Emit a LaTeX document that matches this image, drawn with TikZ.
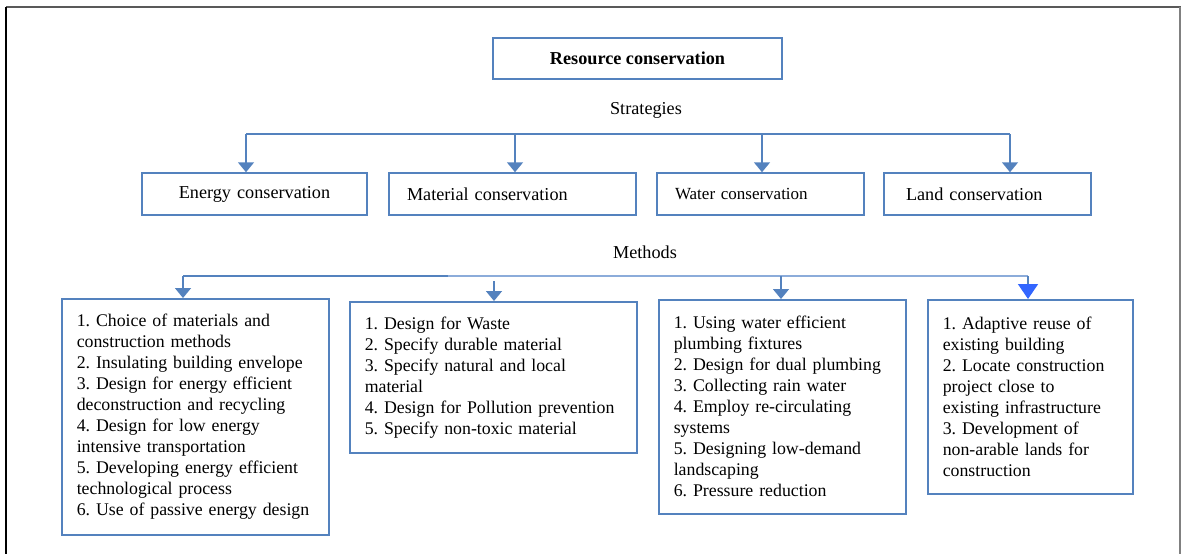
\documentclass[tikz,border=0pt]{standalone}
\usepackage{fontspec}
\setmainfont{Liberation Serif}
\usetikzlibrary{arrows.meta}
\definecolor{boxblue}{RGB}{84,130,190}
\definecolor{lineblue}{RGB}{140,172,218}
\definecolor{brightblue}{RGB}{51,102,255}

\begin{document}
\frenchspacing
\hyphenpenalty=10000
\exhyphenpenalty=10000
\begin{tikzpicture}[x=0.5pt,y=-0.5pt,
		every node/.style={font=\fontsize{9.1}{10.5}\selectfont},
		box/.style={draw=boxblue,line width=0.75pt,inner ysep=0pt},
		sbox/.style={box,minimum height=21pt,inner xsep=9pt,align=left},
		mbox/.style={box,anchor=north west,inner xsep=7.5pt,align=left,font=\fontsize{8.9}{10.5}\selectfont},
		bus/.style={line width=0.8pt},
		arr/.style={draw=boxblue,line width=0.8pt,-{Triangle[width=8pt,length=5pt]}},
		bigarr/.style={draw=boxblue,line width=0.8pt,-{Triangle[width=10pt,length=7.5pt,color=brightblue,fill=brightblue]}}]

		\useasboundingbox (0,0) rectangle (1181,554);

		% page frame
		\draw [gray!70!black, line width=1pt] (6,7) -- (1181,7);
		\draw [black, line width=0.8pt] (6,7) -- (6,554);
		\draw [gray, line width=0.8pt] (1180,7) -- (1180,554);

		\node [box, minimum width=144.5pt, minimum height=20.5pt] (res) at (637.5,58.5) {\bfseries Resource conservation};
		\node (strat) at (646,110) {Strategies};

		\node [sbox, text width=94.5pt, align=center] (energy) at (254.5,194) {Energy conservation};
		\node [sbox, text width=105.5pt] (material) at (512.5,194) {Material conservation};
		\node [sbox, text width=85.5pt, font=\fontsize{8.5}{10}\selectfont] (water) at (760.5,194) {Water conservation};
		\node [sbox, inner xsep=11pt, text width=81.5pt] (land) at (987.5,194) {Land conservation};

		\node (meth) at (645,252) {Methods};

		\node [mbox, text width=118.5pt, minimum height=118pt] (energyM) at (61,298) {1. Choice of materials and\\construction methods\\2. Insulating building envelope\\3. Design for energy efficient\\deconstruction and recycling\\4. Design for low energy\\intensive transportation\\5. Developing energy efficient\\technological process\\6. Use of passive energy design};
		\node [mbox, text width=128.5pt, minimum height=75.5pt] (materialM) at (349,301) {1. Design for Waste\\2. Specify durable material\\3. Specify natural and local\\material\\4. Design for Pollution prevention\\5. Specify non-toxic material};
		\node [mbox, text width=108.5pt, minimum height=107pt] (waterM) at (658,299) {1. Using water efficient\\plumbing fixtures\\2. Design for dual plumbing\\3. Collecting rain water\\4. Employ re-circulating\\systems\\5. Designing low-demand\\landscaping\\6. Pressure reduction};
		\node [mbox, text width=87.5pt, minimum height=97pt] (landM) at (927,299) {1. Adaptive reuse of\\existing building\\2. Locate construction\\project close to\\existing infrastructure\\3. Development of\\non-arable lands for\\construction};

		% strategies
		\coordinate (s1) at (246,134);
		\coordinate (s2) at (515,134);
		\coordinate (s3) at (762,134);
		\coordinate (s4) at (1010,134);
		\draw [bus, boxblue] (s1) -- (s4);
		\foreach \c/\n in {s1/energy,s2/material,s3/water,s4/land}
			\draw [arr] (\c) -- (\c |- \n.north);

		% methods
		\coordinate (t1) at (183,276);
		\coordinate (tm) at (448,276);
		\coordinate (t2) at (494,281);
		\coordinate (t3) at (781,276);
		\coordinate (t4) at (1028,276);
		\draw [bus, boxblue] (t1) -- (tm);
		\draw [bus, lineblue] (tm) -- (t4);
		\foreach \c/\n in {t1/energyM,t2/materialM,t3/waterM}
			\draw [arr] (\c) -- (\c |- \n.north);
		\draw [bigarr] (t4) -- (t4 |- landM.north);

\end{tikzpicture}
\end{document}
